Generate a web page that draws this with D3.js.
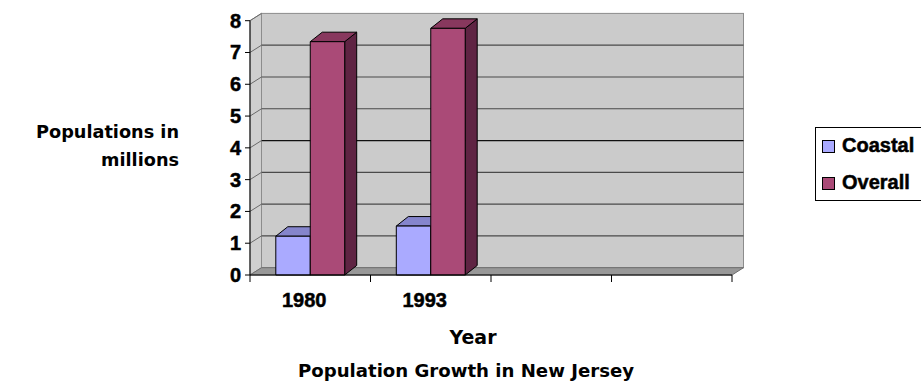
<!DOCTYPE html>
<html>
<head>
<meta charset="utf-8">
<script src="https://cdn.jsdelivr.net/npm/d3@7"></script>
<style>
  html, body { margin: 0; padding: 0; background: #fff; }
  svg { display: block; }
  .tick-label { font-family: "Liberation Sans", Arial, sans-serif; font-weight: bold; font-size: 20px; fill: #000; stroke: #000; stroke-width: 0.5px; }
  .title { font-family: "DejaVu Sans", Verdana, sans-serif; font-weight: bold; fill: #000; }
</style>
</head>
<body>
<svg id="chart" width="921" height="382"></svg>
<script>
// Population (millions) by year
const categories = ["1980", "1993", "", ""];
const seriesNames = ["Coastal", "Overall"];
const coastal = [1.22, 1.54, null, null];
const overall = [7.34, 7.76, null, null];
const yTicks = [0, 1, 2, 3, 4, 5, 6, 7, 8];

const series = [
  { name: seriesNames[0], values: coastal, front: "#aaaaff", top: "#8585cc", side: "#6c6cab" },
  { name: seriesNames[1], values: overall, front: "#aa4a77", top: "#88385e", side: "#5f2443" }
];

const svg = d3.select("#chart");

// plot frame (front plane) and 3D depth offsets
const x0 = 250, x1 = 732, yBottom = 275, yTop = 20.7;
const wallDx = 11.5, wallDy = 7.3;
const barDx = 12, barDy = 9.5;

const y = d3.scaleLinear().domain([0, 8]).range([yBottom, yTop]);
const x = d3.scaleBand().domain(d3.range(categories.length)).range([x0, x1]).padding(0);
const xs = d3.scaleBand().domain(d3.range(series.length))
  .range([25.8, x.bandwidth() - 25.8]).padding(0);

const poly = pts => pts.map(p => p.join(",")).join(" ");

// back wall
svg.append("rect")
  .attr("x", x0 + wallDx).attr("y", yTop - wallDy)
  .attr("width", x1 - x0).attr("height", yBottom - yTop)
  .attr("fill", "#cbcbcb").attr("stroke", "#8c8c8c").attr("stroke-width", 1);

// side wall
svg.append("polygon")
  .attr("points", poly([[x0, yTop], [x0 + wallDx, yTop - wallDy], [x0 + wallDx, yBottom - wallDy], [x0, yBottom]]))
  .attr("fill", "#cfcfcf").attr("stroke", "#8c8c8c").attr("stroke-width", 1);

// floor
svg.append("polygon")
  .attr("points", poly([[x0, yBottom], [x1, yBottom], [x1 + wallDx, yBottom - wallDy], [x0 + wallDx, yBottom - wallDy]]))
  .attr("fill", "#989898").attr("stroke", "#6e6e6e").attr("stroke-width", 1);

// gridlines on the back wall and side wall
const grid = svg.append("g");
yTicks.filter(t => t > 0 && t < 8).forEach(t => {
  grid.append("line")
    .attr("x1", x0 + wallDx).attr("x2", x1 + wallDx)
    .attr("y1", y(t) - wallDy).attr("y2", y(t) - wallDy)
    .attr("stroke", t === 4 ? "#111" : "#4a4a4a").attr("stroke-width", 1.2);
});
yTicks.filter(t => t > 0).forEach(t => {
  grid.append("line")
    .attr("x1", x0).attr("x2", x0 + wallDx)
    .attr("y1", y(t)).attr("y2", y(t) - wallDy)
    .attr("stroke", "#6a6a6a").attr("stroke-width", 1);
});

// 3D columns
const bars = svg.append("g");
categories.forEach((c, i) => {
  series.forEach((s, j) => {
    const v = s.values[i];
    if (v == null) return;
    const bx = x(i) + xs(j), bw = xs.bandwidth();
    const by = y(v), bb = y(0);
    const g = bars.append("g").attr("stroke", "#000").attr("stroke-width", 1).attr("stroke-linejoin", "round");
    g.append("polygon")
      .attr("points", poly([[bx + bw, by], [bx + bw + barDx, by - barDy], [bx + bw + barDx, bb - barDy], [bx + bw, bb]]))
      .attr("fill", s.side);
    g.append("polygon")
      .attr("points", poly([[bx, by], [bx + barDx, by - barDy], [bx + bw + barDx, by - barDy], [bx + bw, by]]))
      .attr("fill", s.top);
    g.append("rect")
      .attr("x", bx).attr("y", by).attr("width", bw).attr("height", bb - by)
      .attr("fill", s.front);
  });
});

// value axis
const yAxis = svg.append("g");
yAxis.append("line").attr("x1", x0).attr("x2", x0).attr("y1", yTop).attr("y2", yBottom)
  .attr("stroke", "#000").attr("stroke-width", 1);
yTicks.forEach(t => {
  yAxis.append("line").attr("x1", x0 - 5).attr("x2", x0).attr("y1", y(t)).attr("y2", y(t))
    .attr("stroke", "#000");
  yAxis.append("text").attr("class", "tick-label")
    .attr("x", x0 - 9).attr("y", y(t) + 7).attr("text-anchor", "end").text(t);
});

// category axis
const xAxis = svg.append("g");
xAxis.append("line").attr("x1", x0).attr("x2", x1).attr("y1", yBottom).attr("y2", yBottom)
  .attr("stroke", "#000").attr("stroke-width", 1);
d3.range(categories.length + 1).forEach(k => {
  const tx = k < categories.length ? x(k) : x1;
  xAxis.append("line").attr("x1", tx).attr("x2", tx).attr("y1", yBottom).attr("y2", yBottom + 7)
    .attr("stroke", "#000");
});
categories.forEach((c, i) => {
  xAxis.append("text").attr("class", "tick-label")
    .attr("x", x(i) + x.bandwidth() / 2 - 6).attr("y", 307)
    .attr("text-anchor", "middle").text(c);
});

// titles, sized to their set widths
function fitText(sel, width) {
  let size = 20;
  sel.style("font-size", size + "px");
  const w = sel.node().getComputedTextLength();
  size = size * width / w;
  sel.style("font-size", size.toFixed(2) + "px");
}

fitText(svg.append("text").attr("class", "title")
  .attr("x", 466).attr("y", 377).attr("text-anchor", "middle")
  .text("Population Growth in New Jersey"), 336);

fitText(svg.append("text").attr("class", "title")
  .attr("x", 473).attr("y", 344).attr("text-anchor", "middle")
  .text("Year"), 47);

const yt1 = svg.append("text").attr("class", "title")
  .attr("x", 179).attr("y", 138).attr("text-anchor", "end").text("Populations in");
fitText(yt1, 143);
const yt2 = svg.append("text").attr("class", "title")
  .attr("x", 179).attr("y", 166).attr("text-anchor", "end").text("millions")
  .style("font-size", yt1.style("font-size"));

// legend
const legend = svg.append("g");
legend.append("rect")
  .attr("x", 815.5).attr("y", 127.5).attr("width", 120).attr("height", 73)
  .attr("fill", "#fff").attr("stroke", "#000").attr("stroke-width", 1);
series.forEach((s, j) => {
  const ly = 152 + j * 37;
  legend.append("rect")
    .attr("x", 822.5).attr("y", ly - 11.5).attr("width", 12).attr("height", 12)
    .attr("fill", s.front).attr("stroke", "#000").attr("stroke-width", 1);
  legend.append("text").attr("class", "tick-label")
    .attr("x", 842).attr("y", ly).text(s.name);
});
</script>
</body>
</html>
